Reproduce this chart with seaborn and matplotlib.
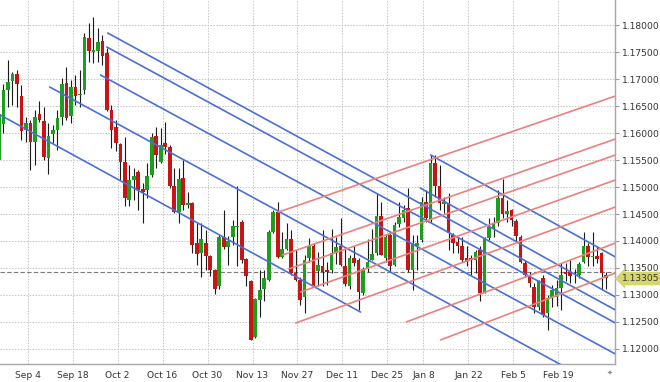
"""Gráfico de velas EURUSD diario con canales de tendencia."""
import pandas as pd
import matplotlib
matplotlib.use("Agg")
import matplotlib.pyplot as plt
import matplotlib.transforms as mtransforms
import seaborn as sns

# Velas diarias (índice de barra 0 = 27 ago)
opens = [1.1550, 1.1617, 1.1680, 1.1697, 1.1709, 1.1669, 1.1606, 1.1618, 1.1584, 1.1635,
         1.1622, 1.1553, 1.1598, 1.1606, 1.1630, 1.1692, 1.1632, 1.1685, 1.1670, 1.1680,
         1.1776, 1.1750, 1.1751, 1.1770, 1.1749, 1.1643, 1.1612, 1.1580, 1.1547, 1.1476,
         1.1513, 1.1527, 1.1496, 1.1495, 1.1522, 1.1595, 1.1547, 1.1581, 1.1575, 1.1501,
         1.1454, 1.1516, 1.1466, 1.1471, 1.1397, 1.1377, 1.1397, 1.1372, 1.1346, 1.1316,
         1.1408, 1.1388, 1.1408, 1.1425, 1.1436, 1.1366, 1.1325, 1.1223, 1.1290, 1.1312,
         1.1328, 1.1417, 1.1454, 1.1370, 1.1386, 1.1403, 1.1340, 1.1328, 1.1297, 1.1368,
         1.1391, 1.1345, 1.1354, 1.1346, 1.1346, 1.1377, 1.1391, 1.1353, 1.1316, 1.1368,
         1.1364, 1.1304, 1.1349, 1.1365, 1.1377, 1.1446, 1.1368, 1.1411, 1.1356, 1.1431,
         1.1443, 1.1461, 1.1346, 1.1391, 1.1402, 1.1473, 1.1439, 1.1545, 1.1501, 1.1469,
         1.1470, 1.1411, 1.1399, 1.1391, 1.1368, 1.1368, 1.1365, 1.1383, 1.1304, 1.1405,
         1.1424, 1.1433, 1.1480, 1.1450, 1.1457, 1.1437, 1.1408, 1.1360, 1.1337, 1.1314,
         1.1278, 1.1331, 1.1266, 1.1297, 1.1296, 1.1313, 1.1343, 1.1343, 1.1335, 1.1337,
         1.1362, 1.1390, 1.1371, 1.1372, 1.1377, 1.1337]
highs = [1.1640, 1.1690, 1.1735, 1.1713, 1.1717, 1.1689, 1.1630, 1.1624, 1.1643, 1.1660,
         1.1649, 1.1618, 1.1615, 1.1643, 1.1701, 1.1723, 1.1698, 1.1708, 1.1717, 1.1786,
         1.1803, 1.1815, 1.1794, 1.1781, 1.1757, 1.1652, 1.1624, 1.1581, 1.1593, 1.1541,
         1.1535, 1.1532, 1.1507, 1.1544, 1.1600, 1.1612, 1.1609, 1.1621, 1.1578, 1.1535,
         1.1535, 1.1550, 1.1490, 1.1473, 1.1433, 1.1433, 1.1420, 1.1374, 1.1349, 1.1411,
         1.1457, 1.1410, 1.1439, 1.1501, 1.1439, 1.1368, 1.1327, 1.1294, 1.1346, 1.1346,
         1.1420, 1.1457, 1.1473, 1.1417, 1.1433, 1.1420, 1.1383, 1.1334, 1.1374, 1.1405,
         1.1396, 1.1380, 1.1420, 1.1362, 1.1423, 1.1407, 1.1442, 1.1388, 1.1374, 1.1390,
         1.1368, 1.1352, 1.1403, 1.1422, 1.1488, 1.1473, 1.1411, 1.1417, 1.1436, 1.1473,
         1.1467, 1.1498, 1.1411, 1.1411, 1.1482, 1.1494, 1.1559, 1.1559, 1.1541, 1.1482,
         1.1488, 1.1414, 1.1408, 1.1408, 1.1390, 1.1374, 1.1383, 1.1390, 1.1407, 1.1442,
         1.1445, 1.1494, 1.1514, 1.1476, 1.1460, 1.1440, 1.1411, 1.1365, 1.1343, 1.1322,
         1.1328, 1.1337, 1.1300, 1.1318, 1.1328, 1.1359, 1.1359, 1.1365, 1.1349, 1.1362,
         1.1417, 1.1396, 1.1417, 1.1390, 1.1380, 1.1343]
lows = [1.1540, 1.1600, 1.1648, 1.1652, 1.1649, 1.1587, 1.1584, 1.1532, 1.1541, 1.1621,
        1.1550, 1.1525, 1.1581, 1.1569, 1.1615, 1.1624, 1.1619, 1.1652, 1.1649, 1.1673,
        1.1732, 1.1729, 1.1732, 1.1726, 1.1640, 1.1572, 1.1566, 1.1513, 1.1464, 1.1464,
        1.1476, 1.1458, 1.1433, 1.1479, 1.1519, 1.1535, 1.1544, 1.1562, 1.1498, 1.1451,
        1.1433, 1.1458, 1.1461, 1.1377, 1.1356, 1.1334, 1.1346, 1.1335, 1.1302, 1.1312,
        1.1386, 1.1356, 1.1393, 1.1353, 1.1359, 1.1316, 1.1216, 1.1220, 1.1260, 1.1288,
        1.1325, 1.1414, 1.1368, 1.1368, 1.1383, 1.1337, 1.1325, 1.1282, 1.1266, 1.1362,
        1.1316, 1.1316, 1.1316, 1.1319, 1.1340, 1.1357, 1.1354, 1.1316, 1.1312, 1.1353,
        1.1272, 1.1300, 1.1343, 1.1365, 1.1374, 1.1374, 1.1362, 1.1343, 1.1353, 1.1426,
        1.1436, 1.1343, 1.1309, 1.1346, 1.1399, 1.1436, 1.1436, 1.1482, 1.1457, 1.1451,
        1.1383, 1.1377, 1.1377, 1.1362, 1.1353, 1.1337, 1.1340, 1.1288, 1.1303, 1.1402,
        1.1408, 1.1427, 1.1443, 1.1436, 1.1427, 1.1400, 1.1359, 1.1333, 1.1315, 1.1266,
        1.1272, 1.1259, 1.1235, 1.1278, 1.1280, 1.1272, 1.1325, 1.1322, 1.1322, 1.1331,
        1.1359, 1.1353, 1.1353, 1.1359, 1.1309, 1.1312]
closes = [1.1635, 1.1680, 1.1695, 1.1709, 1.1691, 1.1603, 1.1619, 1.1584, 1.1630, 1.1625,
          1.1556, 1.1595, 1.1606, 1.1627, 1.1691, 1.1627, 1.1685, 1.1669, 1.1673, 1.1777,
          1.1752, 1.1753, 1.1768, 1.1743, 1.1643, 1.1606, 1.1581, 1.1547, 1.1479, 1.1513,
          1.1521, 1.1495, 1.1491, 1.1521, 1.1593, 1.1559, 1.1578, 1.1574, 1.1501, 1.1454,
          1.1514, 1.1467, 1.1470, 1.1393, 1.1376, 1.1403, 1.1372, 1.1346, 1.1312, 1.1408,
          1.1388, 1.1400, 1.1428, 1.1428, 1.1365, 1.1335, 1.1217, 1.1292, 1.1310, 1.1331,
          1.1417, 1.1454, 1.1370, 1.1386, 1.1403, 1.1340, 1.1328, 1.1290, 1.1365, 1.1391,
          1.1319, 1.1356, 1.1343, 1.1342, 1.1377, 1.1388, 1.1356, 1.1321, 1.1368, 1.1360,
          1.1306, 1.1349, 1.1362, 1.1376, 1.1446, 1.1374, 1.1408, 1.1354, 1.1430, 1.1444,
          1.1457, 1.1346, 1.1396, 1.1396, 1.1473, 1.1442, 1.1544, 1.1501, 1.1470, 1.1472,
          1.1414, 1.1396, 1.1390, 1.1365, 1.1362, 1.1365, 1.1380, 1.1303, 1.1405, 1.1425,
          1.1433, 1.1479, 1.1450, 1.1456, 1.1439, 1.1410, 1.1362, 1.1337, 1.1322, 1.1278,
          1.1325, 1.1263, 1.1294, 1.1309, 1.1313, 1.1337, 1.1339, 1.1335, 1.1336, 1.1357,
          1.1390, 1.1371, 1.1372, 1.1366, 1.1340, 1.1331]
first_bar = -1

date_ticks = [5.4, 15.4, 25.4, 35.4, 45.4, 55.4, 65.4, 75.4, 85.4, 93.4, 103.4, 113.4, 123.4]
date_labels = ["Sep 4", "Sep 18", "Oct 2", "Oct 16", "Oct 30", "Nov 13", "Nov 27",
               "Dec 11", "Dec 25", "Jan 8", "Jan 22", "Feb 5", "Feb 19"]
price_ticks = [1.120, 1.125, 1.130, 1.135, 1.140, 1.145, 1.150,
               1.155, 1.160, 1.165, 1.170, 1.175, 1.180]

# Canales bajistas (azul) y alcistas (rojo): inicio y fin en (barra, precio)
blue_k0 = [23.2, 23.0, 21.6, 10.3, -0.7, 95.0, 92.7]
blue_p0 = [1.17852, 1.17593, 1.17074, 1.16852, 1.16333, 1.15593, 1.14981]
blue_k1 = [136.1, 136.1, 136.1, 136.1, 79.4, 136.1, 136.1]
blue_p1 = [1.12722, 1.12481, 1.11907, 1.11161, 1.12685, 1.13704, 1.12963]

red_k0 = [61.2, 62.1, 63.4, 66.1, 65.0, 89.6, 97.2]
red_p0 = [1.14537, 1.13741, 1.13481, 1.13056, 1.12481, 1.12500, 1.12167]
red_k1 = [136.1, 136.1, 136.1, 136.1, 136.1, 136.1, 136.1]
red_p1 = [1.16685, 1.15889, 1.15593, 1.15130, 1.14630, 1.13963, 1.13407]

bid_line = 1.13426
last_price = 1.13305

sns.set_style("white")
plt.rcParams['font.family'] = ['DejaVu Sans']

df = pd.DataFrame({"open": opens, "high": highs, "low": lows, "close": closes})
df["k"] = range(first_bar, first_bar + len(df))
df["up"] = df["close"] >= df["open"]
df["body_lo"] = df[["open", "close"]].min(axis=1)
df["body_h"] = (df["close"] - df["open"]).abs().clip(lower=0.00006)

rows = []
for i in range(len(blue_k0)):
    rows.append({"k": blue_k0[i], "price": blue_p0[i], "line": f"b{i}", "kind": "blue"})
    rows.append({"k": blue_k1[i], "price": blue_p1[i], "line": f"b{i}", "kind": "blue"})
for i in range(len(red_k0)):
    rows.append({"k": red_k0[i], "price": red_p0[i], "line": f"r{i}", "kind": "red"})
    rows.append({"k": red_k1[i], "price": red_p1[i], "line": f"r{i}", "kind": "red"})
lines_df = pd.DataFrame(rows)

fig = plt.figure(figsize=(6.6, 3.82), dpi=100)
ax = fig.add_axes([0, 18 / 382, 615 / 660, 364 / 382])

# rejilla punteada
for p in price_ticks:
    ax.axhline(p, color="#c4c4c4", lw=0.7, ls=(0, (1.5, 1.5)), zorder=0)
for t in date_ticks:
    ax.axvline(t, color="#c4c4c4", lw=0.7, ls=(0, (1.5, 1.5)), zorder=0)

ax.axhline(bid_line, color="#7a7a7a", lw=0.8, ls=(0, (4, 2)), zorder=1)

green, red = "#1e9e1e", "#c81414"
cols = [green if u else red for u in df["up"]]
ax.vlines(df["k"], df["low"], df["high"], color="#1a1a1a", lw=0.8, zorder=2)
ax.bar(df["k"], df["body_h"], bottom=df["body_lo"], width=0.8,
       color=cols, linewidth=0, zorder=3)

sns.lineplot(data=lines_df, x="k", y="price", units="line", hue="kind",
             palette={"blue": "#4a6fd8", "red": "#ec8080"}, estimator=None,
             sort=False, legend=False, lw=1.2, ax=ax, zorder=4)

ax.set_xlim(-0.75, 136.0)
ax.set_ylim(1.117222, 1.18463)
ax.set_xlabel("")
ax.set_ylabel("")

ax.yaxis.tick_right()
ax.set_yticks(price_ticks)
ax.set_yticklabels([f"{p:.5f}" for p in price_ticks])
ax.set_xticks(date_ticks)
ax.set_xticklabels(date_labels)
ax.tick_params(axis="y", length=3, width=0.8, pad=2, labelsize=6.6,
               colors="#9a9a9a", labelcolor="#333333")
ax.tick_params(axis="x", length=3, width=0.8, pad=2, labelsize=6.6,
               colors="#9a9a9a", labelcolor="#333333")

for side in ["top", "left"]:
    ax.spines[side].set_visible(False)
for side in ["right", "bottom"]:
    ax.spines[side].set_color("#a8a8a8")
    ax.spines[side].set_linewidth(1.0)

trans = mtransforms.blended_transform_factory(ax.transAxes, ax.transData)
ax.text(1.012, last_price, f"{last_price:.5f}", transform=trans, ha="left", va="center",
        fontsize=6.6, color="#333333", zorder=6, clip_on=False,
        bbox=dict(boxstyle="larrow,pad=0.25", fc="#d6d66e", ec="none"))

fig.text(610 / 660, 1 - 373 / 382, "✦", fontsize=5, color="#8a8a8a",
         ha="center", va="center")

fig.savefig("out.png", dpi=100)
